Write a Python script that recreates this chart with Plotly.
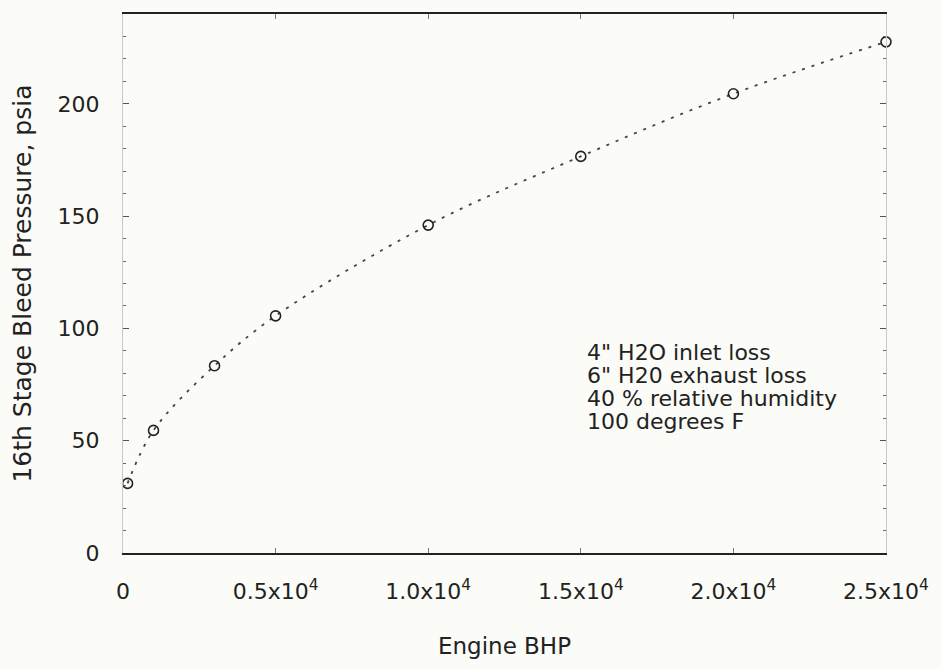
import plotly.graph_objects as go

# Engine operating points
engine_bhp = [150, 1000, 3000, 5000, 10000, 15000, 20000, 25000]
bleed_pressure = [31, 54.6, 83.4, 105.6, 146, 176.6, 204.5, 227.6]

x_tick_vals = [0, 5000, 10000, 15000, 20000, 25000]
x_tick_text = ["0", "0.5x10<sup>4</sup>", "1.0x10<sup>4</sup>", "1.5x10<sup>4</sup>",
               "2.0x10<sup>4</sup>", "2.5x10<sup>4</sup>"]
y_tick_vals = [0, 50, 100, 150, 200]

# Test conditions listed inside the plot, one per line (y in psia units)
conditions = ['4" H2O inlet loss', '6" H20 exhaust loss',
              "40 % relative humidity", "100 degrees F"]
condition_y = [89.3, 79.1, 68.9, 58.7]
condition_x = 15150

ink = "#222222"
font_family = "DejaVu Sans, Verdana, sans-serif"

fig = go.Figure()
fig.add_trace(go.Scatter(
    x=engine_bhp, y=bleed_pressure,
    mode="lines+markers",
    line=dict(color="#444444", width=1.8, dash="3px,7px", shape="spline"),
    marker=dict(symbol="circle-open", size=10, color=ink, line=dict(width=1.6)),
    showlegend=False,
    cliponaxis=False,
))

for text, yv in zip(conditions, condition_y):
    fig.add_annotation(
        x=condition_x, y=yv, xref="x", yref="y",
        text=text, showarrow=False, xanchor="left", yanchor="middle",
        font=dict(size=22, color=ink, family=font_family),
    )

fig.update_layout(
    width=941, height=669,
    margin=dict(l=123, r=52, t=13, b=116),
    paper_bgcolor="#fbfbf7",
    plot_bgcolor="#fbfbf7",
    font=dict(family=font_family, color=ink, size=22),
    xaxis=dict(
        range=[0, 25000],
        tickvals=x_tick_vals, ticktext=x_tick_text,
        showgrid=False, zeroline=False,
        showline=True, linewidth=2, linecolor=ink, mirror="allticks",
        ticks="inside", ticklen=5, tickcolor="#777777",
        ticklabelstandoff=18,
        tickfont=dict(size=22),
        title=dict(text="Engine BHP", standoff=34, font=dict(size=23)),
    ),
    yaxis=dict(
        range=[0, 240],
        tickvals=y_tick_vals,
        showgrid=False, zeroline=False,
        showline=True, linewidth=1, linecolor="#c8c8c8", mirror="allticks",
        ticks="inside", ticklen=6, tickcolor="#555555",
        minor=dict(dtick=10, ticks="inside", ticklen=3, tickcolor="#666666"),
        ticklabelstandoff=18,
        tickfont=dict(size=22),
        title=dict(text="16th Stage Bleed Pressure, psia", standoff=18, font=dict(size=25)),
    ),
)

fig.write_html("out.html")
